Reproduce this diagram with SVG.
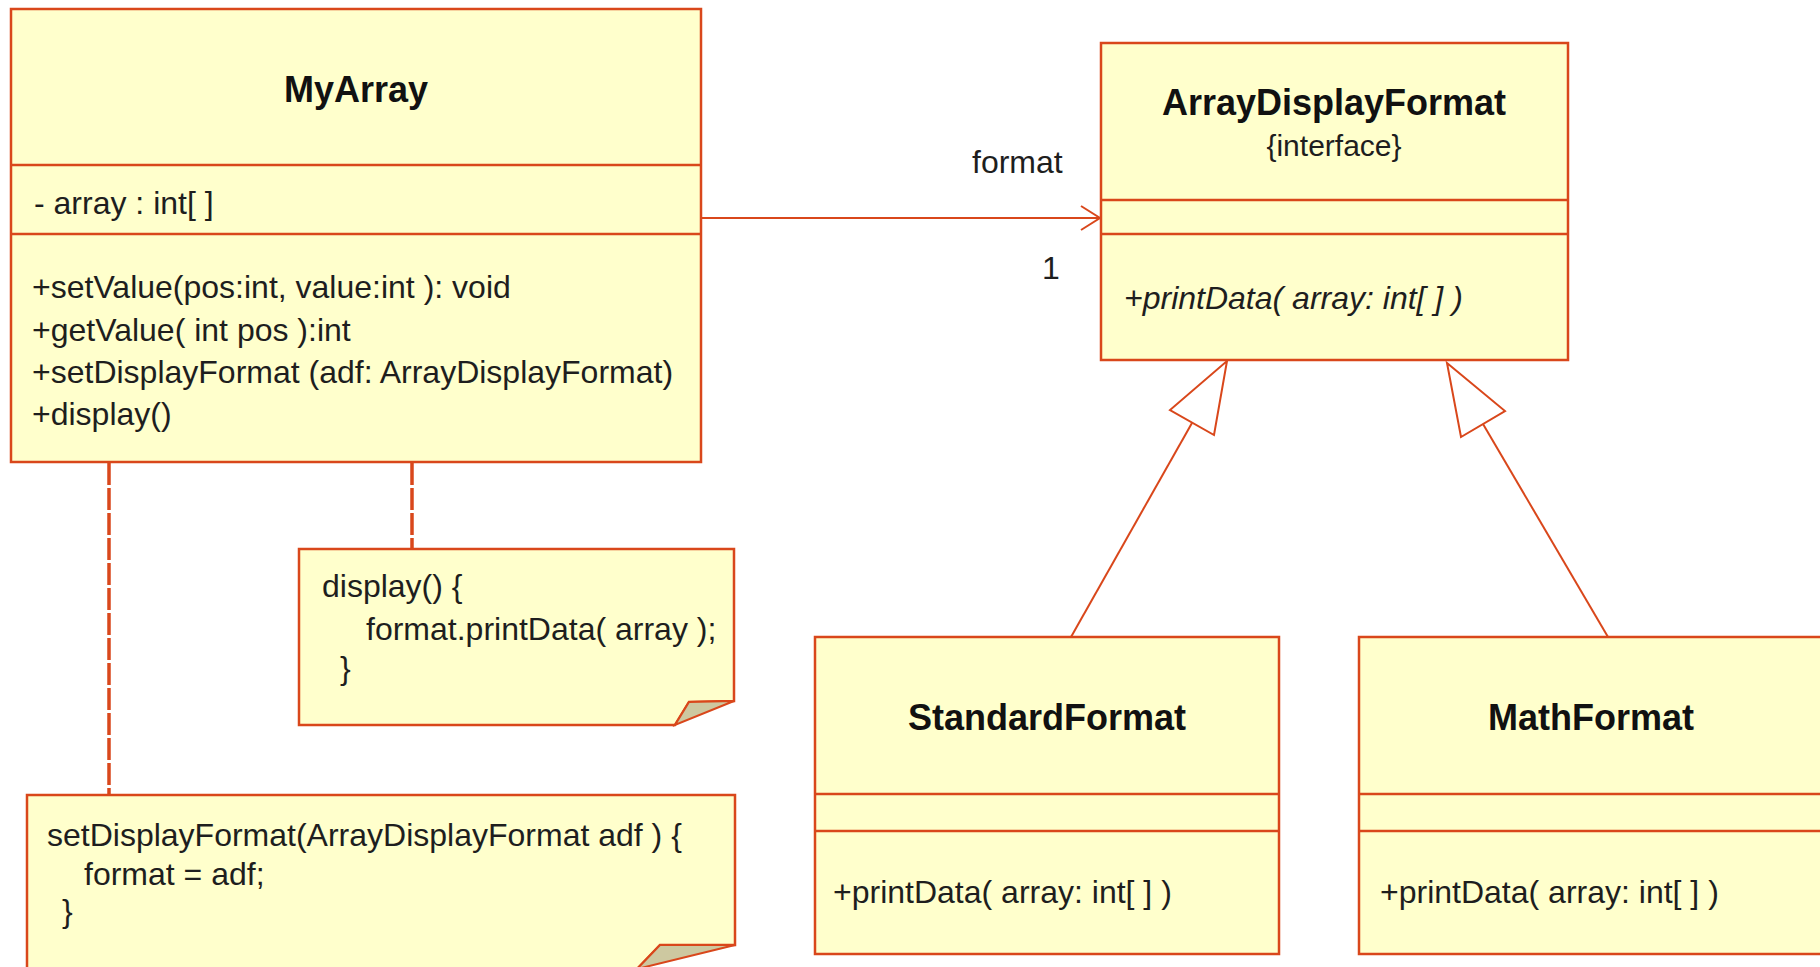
<svg xmlns="http://www.w3.org/2000/svg" width="1820" height="967" viewBox="0 0 1820 967">
<style>
.box{fill:#ffffcc;stroke:#d9471b;stroke-width:2.5}
.div{stroke:#d9471b;stroke-width:2.5}
.ln{stroke:#d9471b;stroke-width:2;fill:none}
.dash{stroke:#d9471b;stroke-width:3.5;fill:none;stroke-dasharray:22 3}
.fold{fill:#cdc8a0;stroke:#d9471b;stroke-width:2}
.tri{fill:#ffffff;stroke:#d9471b;stroke-width:2}
text{font-family:"Liberation Sans",Arial,sans-serif;fill:#1e1e1e}
.t{font-size:36px;font-weight:bold;text-anchor:middle;fill:#111}
.r{font-size:32px}
.i{font-size:32px;font-style:italic}
.s{font-size:30px;text-anchor:middle}
</style>
<g id="connectors">
<line class="dash" x1="109" y1="463" x2="109" y2="795"/>
<line class="dash" x1="412" y1="463" x2="412" y2="549"/>
<line class="ln" x1="701" y1="218" x2="1100" y2="218"/>
<polyline class="ln" points="1081,206 1100,218 1081,230"/>
<text class="r" x="972" y="173">format</text>
<text class="r" x="1042" y="279">1</text>
<line class="ln" x1="1071" y1="637" x2="1192" y2="423"/>
<polygon class="tri" points="1227,361 1214,435 1170,410"/>
<line class="ln" x1="1608" y1="637" x2="1483" y2="424"/>
<polygon class="tri" points="1447,363 1505,411 1461,437"/>
</g>
<g id="MyArray">
<rect class="box" x="11" y="9" width="690" height="453"/>
<line class="div" x1="11" y1="165" x2="701" y2="165"/>
<line class="div" x1="11" y1="234" x2="701" y2="234"/>
<text class="t" x="356" y="102">MyArray</text>
<text class="r" x="34" y="214">- array : int[ ]</text>
<text class="r" x="32" y="298">+setValue(pos:int, value:int ): void</text>
<text class="r" x="32" y="341">+getValue( int pos ):int</text>
<text class="r" x="32" y="383">+setDisplayFormat (adf: ArrayDisplayFormat)</text>
<text class="r" x="32" y="425">+display()</text>
</g>
<g id="ArrayDisplayFormat">
<rect class="box" x="1101" y="43" width="467" height="317"/>
<line class="div" x1="1101" y1="200" x2="1568" y2="200"/>
<line class="div" x1="1101" y1="234" x2="1568" y2="234"/>
<text class="t" x="1334" y="115">ArrayDisplayFormat</text>
<text class="s" x="1334" y="156">{interface}</text>
<text class="i" x="1124" y="309">+printData( array: int[ ] )</text>
</g>
<g id="StandardFormat">
<rect class="box" x="815" y="637" width="464" height="317"/>
<line class="div" x1="815" y1="794" x2="1279" y2="794"/>
<line class="div" x1="815" y1="831" x2="1279" y2="831"/>
<text class="t" x="1047" y="730">StandardFormat</text>
<text class="r" x="833" y="903">+printData( array: int[ ] )</text>
</g>
<g id="MathFormat">
<rect class="box" x="1359" y="637" width="470" height="317"/>
<line class="div" x1="1359" y1="794" x2="1829" y2="794"/>
<line class="div" x1="1359" y1="831" x2="1829" y2="831"/>
<text class="t" x="1591" y="730">MathFormat</text>
<text class="r" x="1380" y="903">+printData( array: int[ ] )</text>
</g>
<g id="note-display">
<path class="box" d="M299,549 H734 V701 L689,702 L675,725 H299 Z"/>
<polygon class="fold" points="675,725 689,702 734,701"/>
<text class="r" x="322" y="597">display() {</text>
<text class="r" x="366" y="640">format.printData( array );</text>
<text class="r" x="340" y="679">}</text>
</g>
<g id="note-setDisplayFormat">
<path class="box" d="M27,795 H735 V945 L660,945 L637,969 H27 Z"/>
<polygon class="fold" points="637,969 660,945 735,945"/>
<text class="r" x="47" y="846">setDisplayFormat(ArrayDisplayFormat adf ) {</text>
<text class="r" x="84" y="885">format = adf;</text>
<text class="r" x="62" y="922">}</text>
</g>
</svg>
